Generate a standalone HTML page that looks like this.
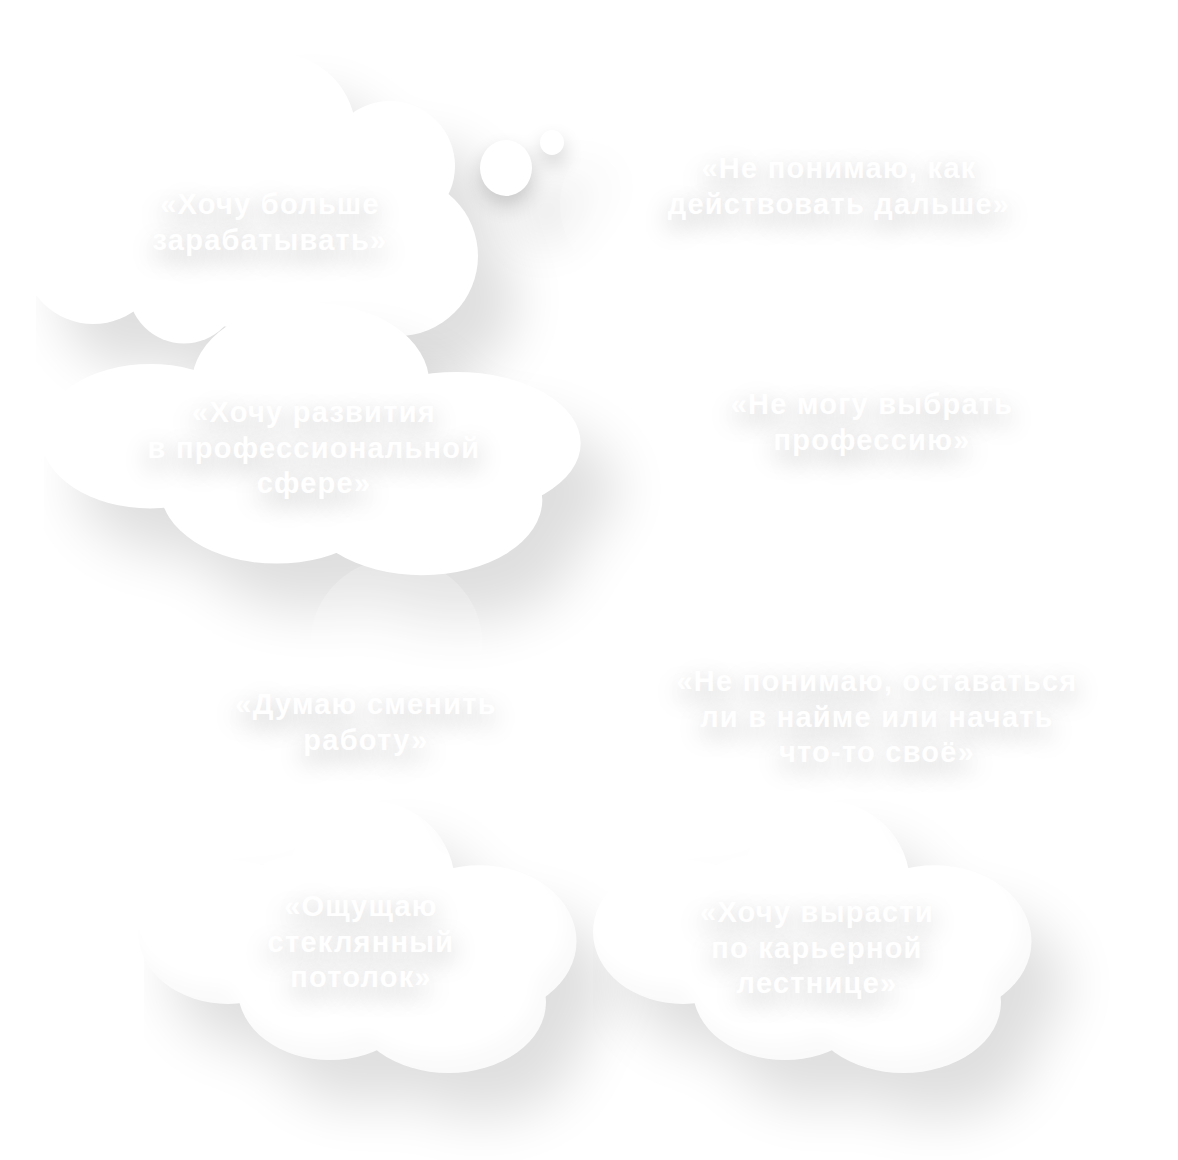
<!DOCTYPE html>
<html lang="ru">
<head>
<meta charset="utf-8">
<title>Облака</title>
<style>
  html, body { margin: 0; padding: 0; background: #fff; }
  body { width: 1178px; height: 1160px; position: relative; overflow: hidden;
         font-family: "Liberation Sans", sans-serif; }
  svg.bg { position: absolute; left: 0; top: 0; width: 1178px; height: 1160px; display: block; }
  .t { position: absolute; width: 600px; margin-left: -300px; text-align: center;
       color: #fff; font-weight: 700; font-size: 29px; line-height: 35.5px;
       letter-spacing: 1.25px; white-space: nowrap;
       text-shadow: 0 8.5px 26px rgba(0,0,0,0.27); }
</style>
</head>
<body>
<svg class="bg" viewBox="0 0 1178 1160" width="1178" height="1160">
  <defs>
    <filter id="gc10" filterUnits="userSpaceOnUse" x="-300" y="-300" width="1800" height="1800" color-interpolation-filters="sRGB"><feGaussianBlur in="SourceAlpha" stdDeviation="26"/><feOffset dx="38" dy="44"/><feComponentTransfer><feFuncA type="linear" slope="0.128"/></feComponentTransfer></filter>
    <filter id="gc20" filterUnits="userSpaceOnUse" x="-300" y="-300" width="1800" height="1800" color-interpolation-filters="sRGB"><feGaussianBlur in="SourceAlpha" stdDeviation="28"/><feOffset dx="36" dy="46"/><feComponentTransfer><feFuncA type="linear" slope="0.131"/></feComponentTransfer></filter>
    <filter id="gc30" filterUnits="userSpaceOnUse" x="-300" y="-300" width="1800" height="1800" color-interpolation-filters="sRGB"><feGaussianBlur in="SourceAlpha" stdDeviation="28"/><feOffset dx="33" dy="44"/><feComponentTransfer><feFuncA type="linear" slope="0.13"/></feComponentTransfer></filter>


    <filter id="shb" filterUnits="userSpaceOnUse" x="0" y="0" width="1178" height="1160" color-interpolation-filters="sRGB">
      <feGaussianBlur in="SourceAlpha" stdDeviation="10"/>
      <feOffset dx="0.5" dy="10"/>
      <feComponentTransfer><feFuncA type="linear" slope="0.186"/></feComponentTransfer>
    </filter>
    <filter id="soft" filterUnits="userSpaceOnUse" x="-300" y="0" width="1800" height="1160" color-interpolation-filters="sRGB">
      <feGaussianBlur in="SourceAlpha" stdDeviation="9" result="b"/>
      <feOffset in="b" dx="-10" dy="-18" result="o"/>
      <feComposite in="SourceAlpha" in2="o" operator="out" result="edge"/>
      <feComponentTransfer in="edge" result="shade"><feFuncA type="linear" slope="0.021"/></feComponentTransfer>
      <feMerge><feMergeNode in="SourceGraphic"/><feMergeNode in="shade"/></feMerge>
    </filter>

    <clipPath id="clip1"><rect x="36" y="0" width="1200" height="1160"/></clipPath>
    <clipPath id="clip2"><rect x="44" y="0" width="1200" height="1160"/></clipPath>
    <clipPath id="clip3"><rect x="144" y="0" width="1300" height="1160"/></clipPath>
    <clipPath id="clip4"><rect x="138" y="0" width="1300" height="1160"/></clipPath>
    <g id="c1">
      <circle cx="275" cy="134" r="81"/>
      <circle cx="390" cy="166" r="65"/>
      <circle cx="398" cy="256" r="80"/>
      <circle cx="93.3" cy="252.9" r="71.1"/>
      <circle cx="184" cy="287.3" r="56.1"/>
      <ellipse cx="135" cy="195" rx="95" ry="75"/>
      <ellipse cx="265" cy="235" rx="150" ry="95"/>
      <ellipse cx="230" cy="200" rx="150" ry="90"/>
    </g>
    <g id="c2">
      <ellipse cx="310.6" cy="383.2" rx="118.7" ry="80.4"/>
      <ellipse cx="150.3" cy="436.2" rx="109.3" ry="72.3"/>
      <ellipse cx="276.7" cy="488.8" rx="116.3" ry="74.8"/>
      <ellipse cx="422.1" cy="499.7" rx="120.2" ry="75.6"/>
      <ellipse cx="456.6" cy="443.4" rx="124.1" ry="71.4"/>
      <ellipse cx="310" cy="450" rx="200" ry="60"/>
    </g>
    <g id="c3">
      <circle cx="371" cy="885" r="84"/>
      <ellipse cx="479.4" cy="941.2" rx="97.1" ry="75.9"/>
      <ellipse cx="448.4" cy="1002" rx="97.6" ry="71"/>
      <ellipse cx="330" cy="990" rx="92" ry="70"/>
      <ellipse cx="228" cy="932" rx="90" ry="72"/>
      <ellipse cx="370" cy="950" rx="125" ry="70"/>
      <ellipse cx="300" cy="905" rx="62" ry="50"/>
    </g>
    <g id="bub">
      <ellipse cx="506" cy="168" rx="26" ry="28"/>
      <ellipse cx="552" cy="142.5" rx="12" ry="12.5"/>
    </g>
  </defs>

  <rect width="1178" height="1160" fill="#fff"/>

  <!-- cloud 1 -->
  <g clip-path="url(#clip1)">
  <use href="#c1" filter="url(#gc10)"/>
  <use href="#bub" filter="url(#gc10)"/>
  </g>
  <circle cx="640" cy="205" r="80" fill="#fff" fill-opacity="0.22"/>
  <use href="#bub" filter="url(#shb)"/>
  <use href="#c1" fill="#fff"/>
  <use href="#bub" fill="#fff"/>

  <!-- cloud 2 -->
  <g clip-path="url(#clip2)"><use href="#c2" filter="url(#gc20)"/></g>
  <circle cx="396.4" cy="644.6" r="86.2" fill="#fff" fill-opacity="0.22"/>
  <use href="#c2" fill="#fff"/>

  <!-- cloud 3 -->
  <g clip-path="url(#clip3)"><use href="#c3" filter="url(#gc30)"/></g>
  <use href="#c3" fill="#fff" filter="url(#soft)"/>

  <!-- cloud 4 -->
  <g transform="translate(455,0)">
    <g clip-path="url(#clip4)"><use href="#c3" filter="url(#gc30)"/></g>
    <use href="#c3" fill="#fff" filter="url(#soft)"/>
  </g>
</svg>

<div class="t" style="left:270px; top:187px;">«Хочу больше<br>зарабатывать»</div>
<div class="t" style="left:839px; top:151px;">«Не понимаю, как<br>действовать дальше»</div>
<div class="t" style="left:314px; top:395px;">«Хочу развития<br>в профессиональной<br>сфере»</div>
<div class="t" style="left:872px; top:387px;">«Не могу выбрать<br>профессию»</div>
<div class="t" style="left:366px; top:687px;">«Думаю сменить<br>работу»</div>
<div class="t" style="left:877px; top:664px;">«Не понимаю, оставаться<br>ли в найме или начать<br>что-то своё»</div>
<div class="t" style="left:361px; top:889px;">«Ощущаю<br>стеклянный<br>потолок»</div>
<div class="t" style="left:817px; top:895px;">«Хочу вырасти<br>по карьерной<br>лестнице»</div>
</body>
</html>
